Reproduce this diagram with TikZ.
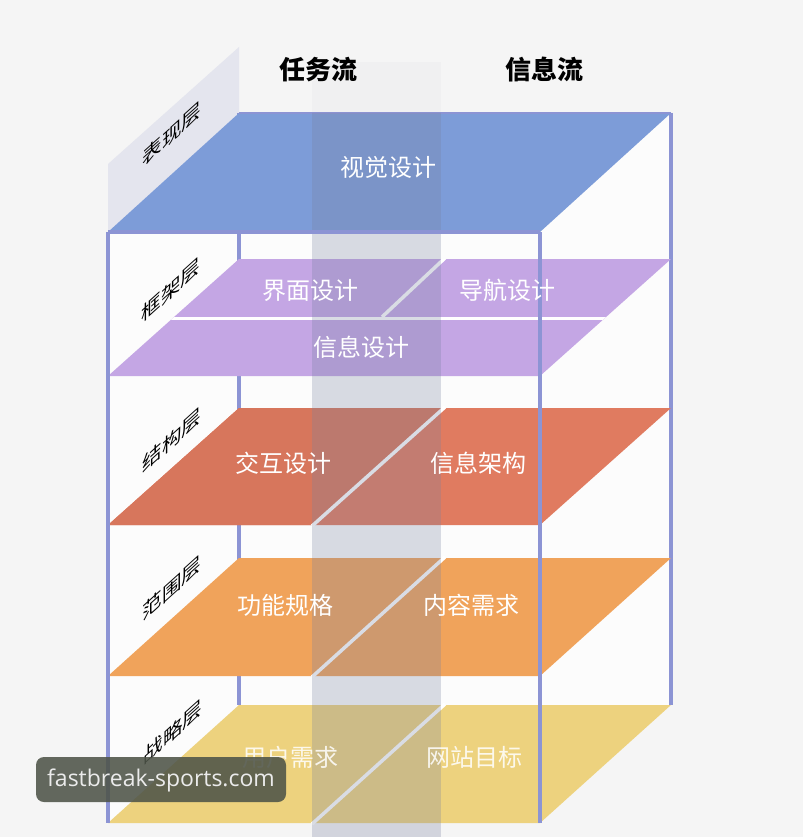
\documentclass[tikz,border=0pt]{standalone}
\usepackage{fontspec}
\newfontfamily\cjk{Noto Sans CJK SC}
\newfontfamily\wmfont{Open Sans}
\definecolor{bgc}{HTML}{F5F5F5}
\definecolor{edgec}{HTML}{8C94D4}
\definecolor{bluep}{HTML}{7D9CD8}
\definecolor{purp}{HTML}{C4A6E4}
\definecolor{redp}{HTML}{E07B60}
\definecolor{orap}{HTML}{F0A35B}
\definecolor{yelp}{HTML}{EDD27E}
\definecolor{panelc}{HTML}{E4E5EE}
\definecolor{bandc}{RGB}{120,130,160}
\definecolor{wmc}{HTML}{4E5448}
\begin{document}
\begin{tikzpicture}[x=1pt,y=-1pt,
  edge/.style={draw=edgec,line width=3.4pt},
  gap/.style={draw=white,line width=3.5pt},
  planetext/.style={font=\cjk\fontsize{24}{26}\selectfont,text=white},
  layerlabel/.style={font=\cjk\fontsize{19.5}{21}\selectfont,text=black,yslant=0.9,inner sep=0pt},
  header/.style={font=\cjk\bfseries\fontsize{26}{28}\selectfont,text=black}]
% canvas
\fill[bgc] (0,0) rectangle (803,837);
\useasboundingbox (0,0) rectangle (803,837);
% cube interior
\fill[white!70!bgc] (108,232) -- (239,113) -- (671,113) -- (671,705) -- (540,823) -- (108,823) -- cycle;
% side label panel of the top layer
\fill[panelc] (108,164) -- (239,47) -- (239,113) -- (108,232) -- cycle;
% back edges
\coordinate (bl) at (239,113);
\coordinate (blb) at (239,705);
\coordinate (br) at (671,113);
\coordinate (brb) at (671,705);
\draw[edge] (bl) -- (blb);
\draw[edge] (br) -- (brb);
% top layer
\fill[bluep] (239,113) -- (671,113) -- (540,232) -- (108,232) -- cycle;
\draw[edge,line width=2pt] (bl) -- (br);
% framework layer
\begin{scope}
\clip (239,259) -- (671,259) -- (540,376) -- (108,376) -- cycle;
\fill[purp] (100,250) rectangle (680,380);
\draw[gap] (100,318.5) -- (680,318.5);
\draw[gap] (445,258) -- (382,317);
\end{scope}
% structure layer
\fill[redp] (239,408) -- (671,408) -- (540,525) -- (108,525) -- cycle;
\fill[redp!96!black] (239,408) -- (444,408) -- (313,525) -- (108,525) -- cycle;
\draw[gap] (445,407) -- (312,526);
% scope layer
\fill[orap] (239,558) -- (671,558) -- (540,676) -- (108,676) -- cycle;
\draw[gap] (445,557) -- (312,677);
% strategy layer
\fill[yelp] (239,705) -- (671,705) -- (540,823) -- (108,823) -- cycle;
\draw[gap] (445,704) -- (312,824);
% translucent band
\fill[bandc,opacity=0.04] (312,62) rectangle (441,113);
\fill[bandc,opacity=0.28] (312,113) rectangle (441,837);
% front edges
\coordinate (fl) at (108,232);
\coordinate (fr) at (540,232);
\coordinate (flb) at (108,823);
\coordinate (frb) at (540,823);
\draw[edge] (fl) -- (fr);
\draw[edge] (fl) -- (flb);
\draw[edge] (fr) -- (frb);
% headers
\node[header] (h1) at (318,70) {任务流};
\node[header] (h2) at (544,70) {信息流};
% layer labels
\node[layerlabel] (l1) at (172,134) {表现层};
\node[layerlabel] (l2) at (171,290) {框架层};
\node[layerlabel] (l3) at (172,440) {结构层};
\node[layerlabel] (l4) at (172,588) {范围层};
\node[layerlabel] (l5) at (173,732) {战略层};
% plane texts
\node[planetext] (p1) at (388,167) {视觉设计};
\node[planetext] (p2) at (310,290) {界面设计};
\node[planetext] (p3) at (507,290) {导航设计};
\node[planetext] (p4) at (361,347) {信息设计};
\node[planetext] (p5) at (283,463) {交互设计};
\node[planetext] (p6) at (478,463) {信息架构};
\node[planetext] (p7) at (285,605) {功能规格};
\node[planetext] (p8) at (471,605) {内容需求};
\node[planetext,text opacity=0.85] (p9) at (290,757) {用户需求};
\node[planetext,text opacity=0.85] (p10) at (474,757) {网站目标};
% watermark
\fill[wmc,opacity=0.88,rounded corners=8pt] (36,757) rectangle (286,802);
\node[font=\wmfont\fontsize{23}{25}\selectfont,text=white!92!black] (wm) at (161,780) {fastbreak-sports.com};
\end{tikzpicture}
\end{document}
